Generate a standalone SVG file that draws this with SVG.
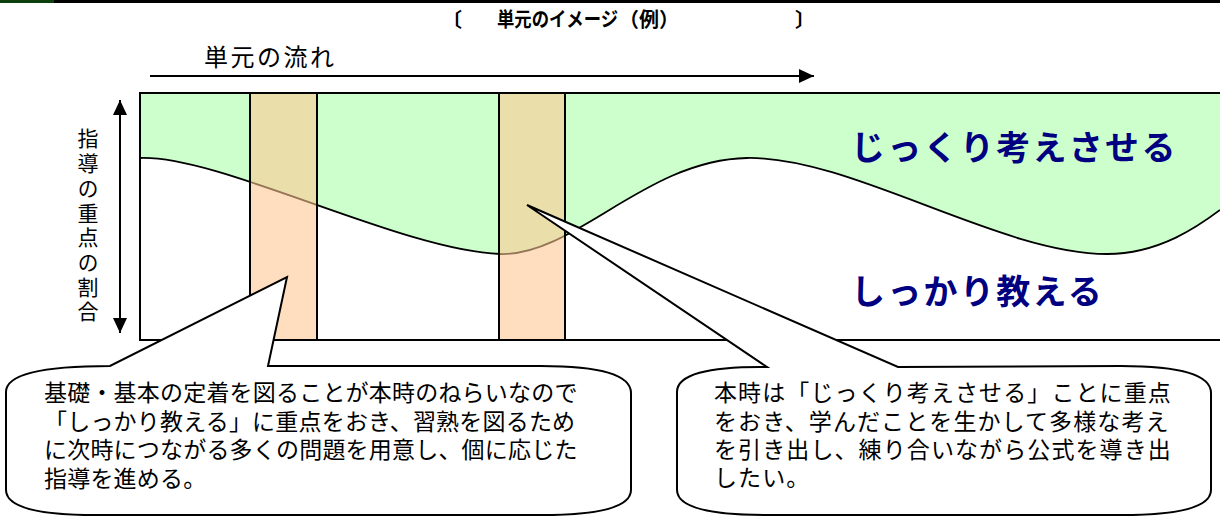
<svg xmlns="http://www.w3.org/2000/svg" width="1220" height="518" viewBox="0 0 1220 518">
<style>
.jp{font-family:"Noto Sans CJK JP","Noto Sans CJK SC",sans-serif;fill:#000}
.ttl{font-family:"Noto Sans CJK JP","Noto Sans CJK SC",sans-serif;font-weight:700;font-size:20px;fill:#000}
.big{font-family:"Noto Sans CJK JP",sans-serif;font-weight:700;font-size:34px;fill:#000080;letter-spacing:2.3px}
.body{font-size:23px}
.ln{fill:none;stroke:#000;stroke-width:2}
.bar{fill:#FFC793;fill-opacity:0.59;stroke:#000;stroke-width:2}
.bubble{fill:#fff;stroke:#000;stroke-width:2;stroke-linejoin:miter}
</style>
<defs>
<marker id="ah" viewBox="0 0 15 14" refX="15" refY="7" markerWidth="15" markerHeight="14" markerUnits="userSpaceOnUse" orient="auto-start-reverse">
<path d="M0,0 L15,7 L0,14 Z" fill="#000"/>
</marker>
</defs>
<rect width="1220" height="518" fill="#fff"/>
<g id="header">
<rect x="0" y="0" width="54" height="3" fill="#0B3F0B"/>
<line x1="54" y1="1.5" x2="1220" y2="1.5" stroke="#000" stroke-width="3"/>
</g>
<g id="title">
<text class="ttl" x="442" y="27">〔</text>
<text class="ttl" x="497" y="27" textLength="121" lengthAdjust="spacingAndGlyphs">単元のイメージ</text>
<text class="ttl" x="619" y="27">（例）</text>
<text class="ttl" x="795" y="27">〕</text>
</g>
<g id="flow-label">
<text class="jp" font-size="24" letter-spacing="2.5" x="204" y="66">単元の流れ</text>
</g>
<g id="chart">
<rect x="140" y="93" width="1080" height="247" fill="#CCFFCC"/>
<path d="M140,158 C220,155 400,250 500,254 C575,256 645,160 747,158 C850,156 1000,254 1107,254 C1160,254 1200,225 1220,210 L1220,340 L140,340 Z" fill="#fff"/>
<path d="M140,158 C220,155 400,250 500,254 C575,256 645,160 747,158 C850,156 1000,254 1107,254 C1160,254 1200,225 1220,210" fill="none" stroke="#000" stroke-width="1.8"/>
<path d="M1220,93 L140,93 L140,340 L1220,340" class="ln"/>
</g>
<g id="bar1"><rect class="bar" x="250" y="93" width="67" height="247"/></g>
<g id="bar2"><rect class="bar" x="499" y="93" width="66" height="247"/></g>
<g id="axis-label">
<text class="jp" font-size="21" letter-spacing="3.7" x="88" y="128" style="writing-mode:vertical-rl">指導の重点の割合</text>
</g>
<g id="connectors">
<line x1="150" y1="76" x2="814" y2="76" stroke="#000" stroke-width="2" marker-end="url(#ah)"/>
<line x1="120" y1="100" x2="120" y2="333" stroke="#000" stroke-width="2" marker-start="url(#ah)" marker-end="url(#ah)"/>
</g>
<g id="label-deep"><text class="big" x="851" y="160">じっくり考えさせる</text></g>
<g id="label-teach"><text class="big" x="851" y="304">しっかり教える</text></g>
<g id="bubble1">
<path class="bubble" d="M268,366 L541,366 Q631,366 631,393 L631,490 Q631,515 541,515 L96,515 Q6,515 6,490 L6,392 Q6,366 110,366 L287,277 Z"/>
<text class="jp body" letter-spacing="0.2" x="44"><tspan x="44" y="401">基礎・基本の定着を図ることが本時のねらいなので</tspan><tspan x="44" y="430">「しっかり教える」に重点をおき、習熟を図るため</tspan><tspan x="44" y="458">に次時につながる多くの問題を用意し、個に応じた</tspan><tspan x="44" y="487">指導を進める。</tspan></text>
</g>
<g id="bubble2">
<path class="bubble" d="M898,367 L1121,366 Q1211,366 1211,393 L1211,490 Q1211,515 1121,515 L767,515 Q677,515 677,490 L677,392 Q677,366 767,367 L527,205 Z"/>
<text class="jp body" letter-spacing="1.1" x="714"><tspan x="714" y="401">本時は「じっくり考えさせる」ことに重点</tspan><tspan x="714" y="430">をおき、学んだことを生かして多様な考え</tspan><tspan x="714" y="458">を引き出し、練り合いながら公式を導き出</tspan><tspan x="714" y="486">したい。</tspan></text>
</g>
</svg>
